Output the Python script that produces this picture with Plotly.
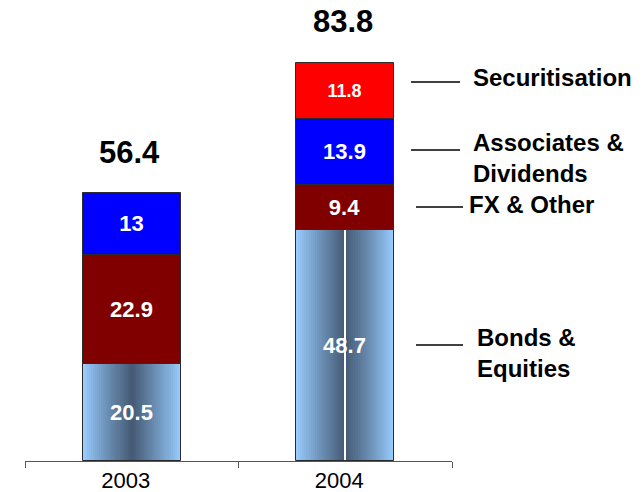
import plotly.graph_objects as go

years = ["2003", "2004"]
bonds_equities = [20.5, 48.7]
fx_other = [22.9, 9.4]
associates_dividends = [13.0, 13.9]
securitisation = [None, 11.8]

series_labels = ["Bonds &<br>Equities", "FX & Other", "Associates &<br>Dividends", "Securitisation"]

FONT = "Liberation Sans, Arial, sans-serif"
W, H = 643, 492
L_PX, R_PX, BASE_PX, TOP_PX = 25, 452, 461, 10
PX_PER_UNIT = 4.75
BAR_W = 0.459

def px_x(px):
    return (px - L_PX) / (R_PX - L_PX)

def px_y(py):
    return (BASE_PX - py) / (BASE_PX - TOP_PX)

def fmt(v):
    return ("%g" % v) if v is not None else ""

fig = go.Figure()

# gradient layers for the bottom series (light edges, dark centre)
light = (153, 204, 255)
dark = (70, 92, 118)
N = 24
for k in range(N):
    t = k / (N - 1)
    t = t ** 0.9
    c = tuple(round(light[i] + (dark[i] - light[i]) * t) for i in range(3))
    fig.add_trace(go.Bar(
        x=years, y=bonds_equities, base=[0, 0],
        width=BAR_W * (1 - k / N),
        marker=dict(color="rgb(%d,%d,%d)" % c, line=dict(width=0)),
        hoverinfo="skip", showlegend=False,
    ))

# white centre line on the 2004 bar
fig.add_trace(go.Bar(
    x=years, y=[None, bonds_equities[1]], base=[0, 0], width=0.007,
    marker=dict(color="white", line=dict(width=0)),
    hoverinfo="skip", showlegend=False,
))

def add_segment(values, bases, color, sizes):
    fig.add_trace(go.Bar(
        x=years, y=values, base=bases, width=BAR_W,
        marker=dict(color=color, line=dict(color="#2a2a2a", width=1)),
        text=[fmt(v) for v in values],
        textposition="inside", insidetextanchor="middle", textangle=0,
        constraintext="none",
        textfont=dict(family=FONT, color="white", size=sizes, weight="bold"),
        hoverinfo="skip", showlegend=False,
    ))

base1 = [0, 0]
base2 = [b + v for b, v in zip(base1, bonds_equities)]
base3 = [b + v for b, v in zip(base2, fx_other)]
base4 = [b + v for b, v in zip(base3, associates_dividends)]

add_segment(bonds_equities, base1, "rgba(0,0,0,0)", [22, 22])
add_segment(fx_other, base2, "#800000", [22, 22])
add_segment(associates_dividends, base3, "#0000FF", [22, 22])
add_segment(securitisation, base4, "#FF0000", [18, 18])

totals = [round(sum(v for v in vals if v is not None), 1)
          for vals in zip(bonds_equities, fx_other, associates_dividends, securitisation)]

annotations = []
for i, tot in enumerate(totals):
    annotations.append(dict(
        x=i, y=tot, xref="x", yref="y", text="<b>%.1f</b>" % tot,
        showarrow=False, xanchor="center", yanchor="middle", yshift=41, xshift=-2,
        font=dict(family=FONT, size=31, color="black"),
    ))

# right-side labels with leader lines
label_specs = [
    # text, text_x_px, text_center_y_px, line_x0, line_x1, line_y
    (series_labels[3], 471, 77, 411, 460, 82),
    (series_labels[2], 471, 158.5, 411, 460, 150),
    (series_labels[1], 467, 204, 416, 463, 207),
    (series_labels[0], 475, 352.5, 416, 463, 345),
]
shapes = []
for txt, tx, ty, lx0, lx1, ly in label_specs:
    annotations.append(dict(
        x=px_x(tx), y=px_y(ty), xref="paper", yref="paper", text="<b>%s</b>" % txt,
        showarrow=False, xanchor="left", yanchor="middle", align="left",
        font=dict(family=FONT, size=24, color="black"),
    ))
    shapes.append(dict(
        type="line", xref="paper", yref="paper",
        x0=px_x(lx0), x1=px_x(lx1), y0=px_y(ly), y1=px_y(ly),
        line=dict(color="black", width=1.5),
    ))

fig.update_layout(
    template="none",
    width=W, height=H,
    margin=dict(l=L_PX, r=W - R_PX, t=TOP_PX, b=H - BASE_PX, pad=0),
    barmode="overlay",
    bargap=0,
    paper_bgcolor="white", plot_bgcolor="white",
    showlegend=False,
    annotations=annotations,
    shapes=shapes,
    xaxis=dict(
        type="category", range=[-0.5, 1.5], automargin=False,
        showline=True, linecolor="#555555", linewidth=1,
        ticks="outside", tickson="boundaries", ticklen=6, tickcolor="#555555",
        showgrid=False, zeroline=False,
        ticklabelshift=-6, ticklabelstandoff=0,
        tickfont=dict(family=FONT, size=22, color="black"),
    ),
    yaxis=dict(
        range=[0, (BASE_PX - TOP_PX) / PX_PER_UNIT],
        showticklabels=False, showline=False, ticks="",
        showgrid=False, zeroline=False, automargin=False,
    ),
)

fig.write_html(
    "out.html",
    config={"displayModeBar": False},
    post_script="document.body.style.margin='0';document.body.style.overflow='hidden';",
)
